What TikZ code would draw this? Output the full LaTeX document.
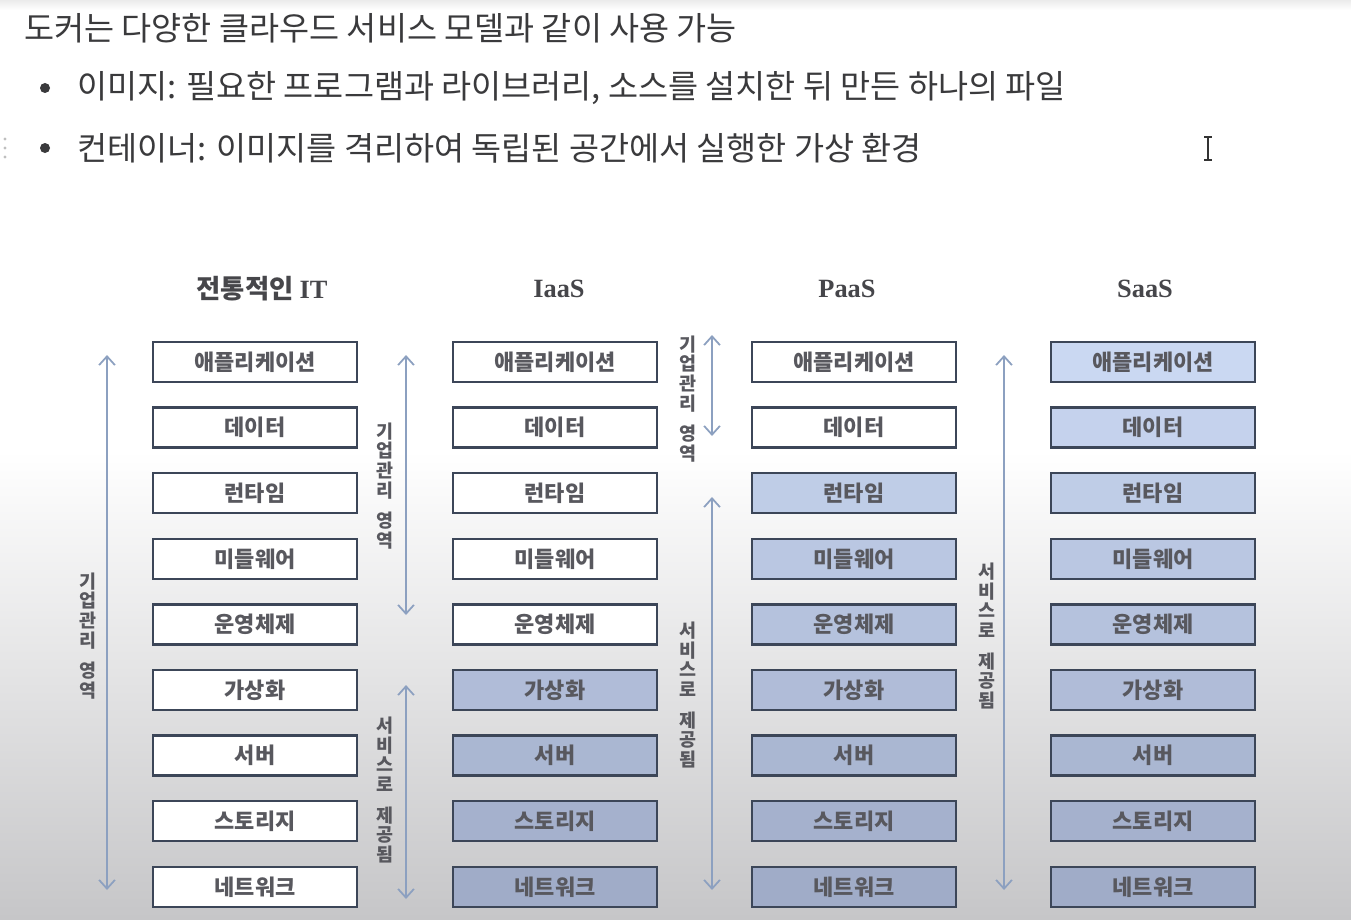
\documentclass[tikz,border=0pt]{standalone}
\usepackage{fontspec}
\usepackage{xcolor}
\usepackage{tikz}
\usetikzlibrary{arrows.meta, positioning}
\setmainfont{Noto Sans CJK KR}
\newfontfamily\latinserif{Liberation Serif}
\definecolor{boxline}{RGB}{60,70,88}
\definecolor{boxtext}{RGB}{88,88,94}
\definecolor{laytop}{RGB}{202,216,242}
\definecolor{laybot}{RGB}{158,170,198}
\definecolor{spanblue}{RGB}{140,160,192}
\definecolor{labelgray}{RGB}{88,88,94}
\definecolor{headgray}{RGB}{70,70,74}
\definecolor{bodygray}{RGB}{58,58,60}
\definecolor{bgbot}{RGB}{198,198,200}
\tikzset{
  stackbox/.style={rectangle, draw=boxline, line width=1.4pt,
    minimum width=4.08cm, minimum height=0.8cm, inner sep=0pt,
    font=\fontsize{12.5}{14}\selectfont\bfseries, text=boxtext},
  spanarrow/.style={{Straight Barb[length=5pt,width=9pt]}-{Straight Barb[length=5pt,width=9pt]},
    line width=1pt, color=spanblue},
  vlabel/.style={align=center, inner sep=0pt,
    font=\fontsize{10.5}{11.3}\selectfont\bfseries, text=labelgray},
  colhead/.style={font=\fontsize{15}{18}\selectfont\bfseries, text=headgray},
  bodytext/.style={anchor=west, inner sep=0pt,
    font=\fontsize{18.6}{22}\selectfont, text=bodygray},
  dotmark/.style={fill=bodygray, draw=none}
}

\begin{document}
\begin{tikzpicture}[x=0.02cm, y=-0.02cm]
  \useasboundingbox (0,0) rectangle (1351,919);
  % Background
  \fill[white] (0,0) rectangle (1351,919);
  \shade[top color=white, bottom color=bgbot] (0,450) rectangle (1351,919);
  \shade[top color=black!8, bottom color=white] (0,0) rectangle (1351,10);

  % Heading lines
  \node[bodytext] (intro) at (24,28) {도커는 다양한 클라우드 서비스 모델과 같이 사용 가능};
  \fill[dotmark] (45,88) circle (5);
  \node[bodytext] (image) at (77,88) {이미지: 필요한 프로그램과 라이브러리, 소스를 설치한 뒤 만든 하나의 파일};
  \fill[dotmark] (45,148) circle (5);
  \node[bodytext] (container) at (77,148) {컨테이너: 이미지를 격리하여 독립된 공간에서 실행한 가상 환경};

  % Screen marks
  \foreach \yy in {139,148,157}
    \fill[black!25] (5,\yy) circle (1.6);
  \draw[black!80, line width=0.7pt] (1208,137) -- (1208,160)
    (1204,137) -- (1212,137) (1204,160) -- (1212,160);

  % Column titles
  \node[colhead] (tradhead) at (262,289) {전통적인 {\latinserif IT}};
  \node[colhead] (iaashead) at (559,289) {\latinserif IaaS};
  \node[colhead] (paashead) at (847,289) {\latinserif PaaS};
  \node[colhead] (saashead) at (1145,289) {\latinserif SaaS};

  % Layer stacks
  \foreach \col/\cx/\nw in {trad/255/9, iaas/555/5, paas/854/2, saas/1153/0}{
    \foreach \lbl [count=\r] in {애플리케이션, 데이터, 런타임, 미들웨어, 운영체제, 가상화, 서버, 스토리지, 네트워크}{
      \pgfmathtruncatemacro\mix{100-(\r-1)*12}
      \ifnum\r>\nw \def\fc{laytop!\mix!laybot}\else\def\fc{white}\fi
      \node[stackbox, fill=\fc] (\col\r) at (\cx,{362+65.6*(\r-1)}) {\lbl};
    }
  }

  % Span arrows
  \coordinate (tradAllTop) at (107,355);
  \coordinate (tradAllBot) at (107,890);
  \coordinate (tradOwnTop) at (406,355);
  \coordinate (tradOwnBot) at (406,615);
  \coordinate (tradSvcTop) at (406,685);
  \coordinate (tradSvcBot) at (406,899);
  \coordinate (iaasOwnTop) at (712,335);
  \coordinate (iaasOwnBot) at (712,436);
  \coordinate (iaasSvcTop) at (712,497);
  \coordinate (iaasSvcBot) at (712,890);
  \coordinate (paasSvcTop) at (1004,355);
  \coordinate (paasSvcBot) at (1004,890);
  \draw[spanarrow] (tradAllTop) -- (tradAllBot);
  \draw[spanarrow] (tradOwnTop) -- (tradOwnBot);
  \draw[spanarrow] (tradSvcTop) -- (tradSvcBot);
  \draw[spanarrow] (iaasOwnTop) -- (iaasOwnBot);
  \draw[spanarrow] (iaasSvcTop) -- (iaasSvcBot);
  \draw[spanarrow] (paasSvcTop) -- (paasSvcBot);

  % Span labels
  \node[vlabel] (tradAllLbl) at (88,636) {기\\업\\관\\리\\[6pt]영\\역};
  \node[vlabel] (tradOwnLbl) at (385,486) {기\\업\\관\\리\\[6pt]영\\역};
  \node[vlabel] (tradSvcLbl) at (385,790) {서\\비\\스\\로\\[6pt]제\\공\\됨};
  \node[vlabel] (iaasOwnLbl) at (688,399) {기\\업\\관\\리\\[6pt]영\\역};
  \node[vlabel] (iaasSvcLbl) at (688,695) {서\\비\\스\\로\\[6pt]제\\공\\됨};
  \node[vlabel] (paasSvcLbl) at (987,636) {서\\비\\스\\로\\[6pt]제\\공\\됨};
\end{tikzpicture}
\end{document}
